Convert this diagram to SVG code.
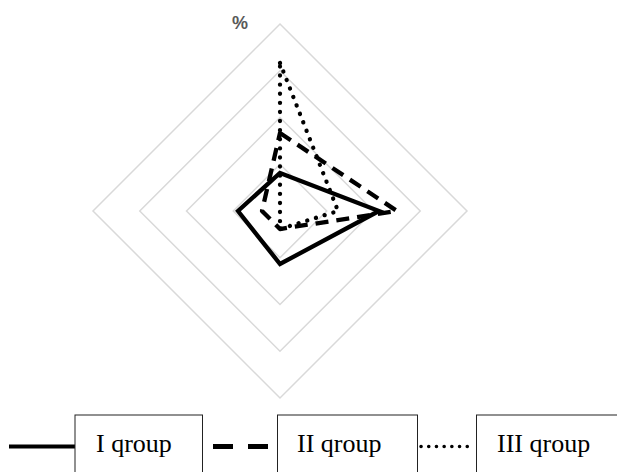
<svg xmlns="http://www.w3.org/2000/svg" width="617" height="472" viewBox="0 0 617 472">
<style>
.grid{fill:none;stroke:#d9d9d9;stroke-width:1.5}
.s1{fill:none;stroke:#000;stroke-width:4.3;stroke-linejoin:miter}
.s2{fill:none;stroke:#000;stroke-width:4.3;stroke-dasharray:13 8;stroke-linejoin:round}
.s3{fill:none;stroke:#000;stroke-width:4.3;stroke-dasharray:0.1 9;stroke-linecap:round}
.box{fill:#fff;stroke:#222;stroke-width:1}
.lab{font-family:"Liberation Serif","Times New Roman",serif;font-size:26px;fill:#000}
</style>
<rect width="617" height="472" fill="#fff"/>
<g id="grid">
<polygon class="grid" points="280,24 467,211 280,398 93,211"/>
<polygon class="grid" points="280,70.75 420.25,211 280,351.25 139.75,211"/>
<polygon class="grid" points="280,117.5 373.5,211 280,304.5 186.5,211"/>
<polygon class="grid" points="280,164.25 326.75,211 280,257.75 233.25,211"/>
</g>
<text id="axis-label" x="240" y="29" text-anchor="middle" font-family="Liberation Sans, Arial, sans-serif" font-size="18" font-weight="bold" fill="#595959">%</text>
<g id="series">
<polygon id="series-I" class="s1" points="280,173 379,211 280,264 238,211"/>
<polygon id="series-II" class="s2" points="280,133 397,211 280,229 262,211"/>
<polygon id="series-III" class="s3" points="280,63 338,211 280,229 280,211"/>
</g>
<g id="legend">
<g id="legend-I">
<line x1="9" y1="446.5" x2="75" y2="446.5" stroke="#000" stroke-width="4"/>
<rect class="box" x="75" y="415" width="127.5" height="70"/>
<text class="lab" x="96" y="452">I qroup</text>
</g>
<g id="legend-II">
<line x1="213" y1="446.5" x2="268" y2="446.5" stroke="#000" stroke-width="5" stroke-dasharray="20 15"/>
<rect class="box" x="277.5" y="415" width="140" height="70"/>
<text class="lab" x="297" y="452">II qroup</text>
</g>
<g id="legend-III">
<line x1="421" y1="446.5" x2="473" y2="446.5" stroke="#000" stroke-width="3.5" stroke-dasharray="0.1 7.6" stroke-linecap="round"/>
<rect class="box" x="476.5" y="415" width="150" height="70"/>
<text class="lab" x="497" y="452">III qroup</text>
</g>
</g>
</svg>
